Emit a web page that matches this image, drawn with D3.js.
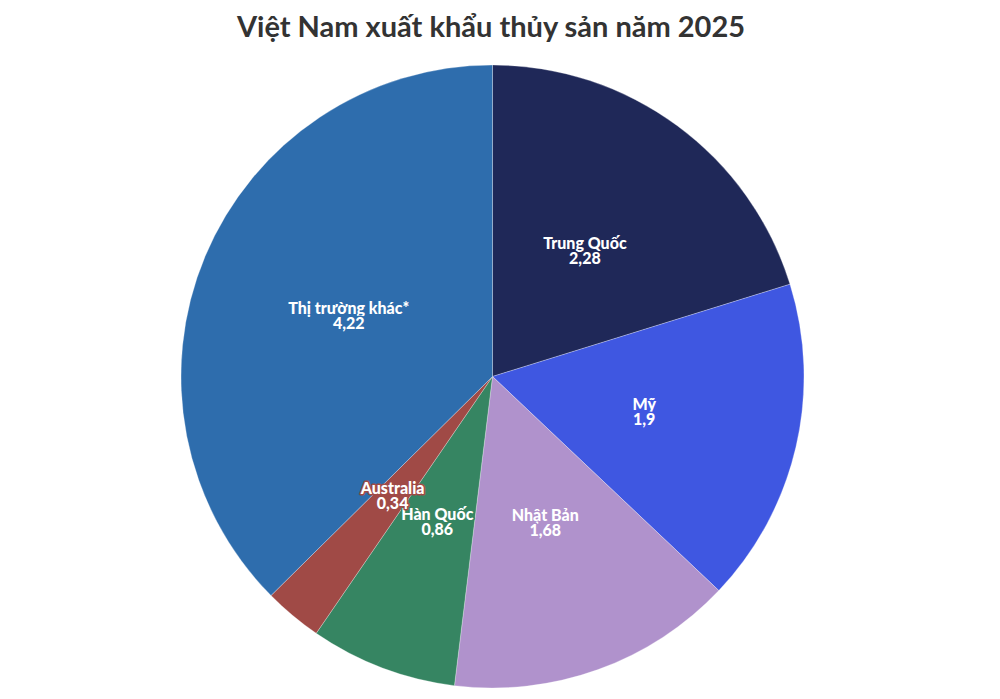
<!DOCTYPE html>
<html>
<head>
<meta charset="utf-8">
<script src="https://cdn.jsdelivr.net/npm/d3@7"></script>
<style>
  html, body { margin: 0; padding: 0; background: #fff; }
  svg { display: block; }
</style>
</head>
<body>
<div id="chart"></div>
<script>
// markets, clockwise from 12 o'clock
const markets = ["Trung Quốc", "Mỹ", "Nhật Bản", "Hàn Quốc", "Australia", "Thị trường khác*"];
const values = [2.28, 1.9, 1.68, 0.86, 0.34, 4.22];
const colors = ["#1f2858", "#3f57e1", "#b092cc", "#368562", "#a04a46", "#2e6dad"];
const title = "Việt Nam xuất khẩu thủy sản năm 2025";

const W = 1000, H = 699;
const cx = 492.5, cy = 376.5, R = 311.5;

const svg = d3.select("#chart").append("svg").attr("width", W).attr("height", H);

svg.append("text")
  .attr("x", 491).attr("y", 37)
  .attr("text-anchor", "middle")
  .attr("font-family", "Lato, sans-serif")
  .attr("font-weight", 700)
  .attr("font-size", 29)
  .attr("fill", "#333")
  .text(title);

const rows = markets.map((m, i) => ({name: m, value: values[i], color: colors[i]}));
const pie = d3.pie().value(d => d.value).sort(null);
const arc = d3.arc().innerRadius(0).outerRadius(R);
const fmt = v => String(v).replace(".", ",");

const g = svg.append("g").attr("transform", `translate(${cx},${cy})`);
const arcs = pie(rows);

g.selectAll("path").data(arcs).join("path")
  .attr("d", arc)
  .attr("fill", d => d.data.color)
  .attr("stroke", "rgba(255,255,255,0.35)")
  .attr("stroke-width", 0.8);

const lab = g.selectAll("text.lab").data(arcs).join("text")
  .attr("class", "lab")
  .attr("transform", d => `translate(${arc.centroid(d)})`)
  .attr("text-anchor", "middle")
  .attr("font-family", "Lato, sans-serif")
  .attr("font-weight", 900)
  .attr("font-size", 16)
  .attr("fill", "#fff")
  .attr("stroke", d => d.data.color)
  .attr("stroke-width", 3)
  .attr("stroke-linejoin", "round")
  .attr("paint-order", "stroke");
lab.append("tspan").attr("x", 0).attr("y", -2).text(d => d.data.name);
lab.append("tspan").attr("x", 0).attr("y", 13).text(d => fmt(d.data.value));
</script>
</body>
</html>
